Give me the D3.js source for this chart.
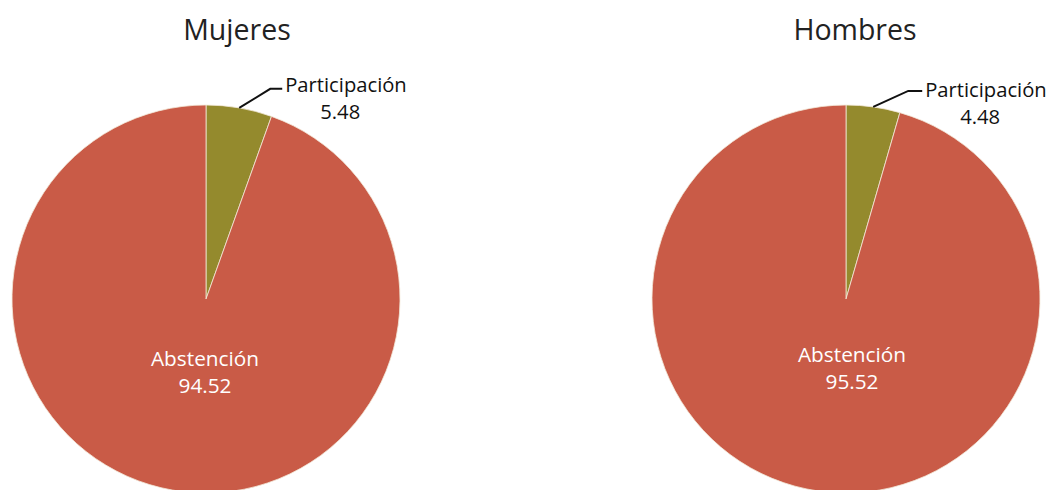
<!DOCTYPE html>
<html><head><meta charset="utf-8">
<script src="https://cdn.jsdelivr.net/npm/d3@7"></script>
<style>body{margin:0;background:#fff;overflow:hidden}</style>
</head><body>
<svg id="c" width="1049" height="490"></svg>
<script>
const titles = ["Mujeres", "Hombres"];
const categories = ["Participación", "Abstención"];
const mujeres = [5.48, 94.52];
const hombres = [4.48, 95.52];
const colors = ["#948A2D", "#C95B47"];

const svg = d3.select("#c");
const font = "'Open Sans', 'Noto Sans', sans-serif";
const R = 194;
const pies = [
  {title: titles[0], values: mujeres, cx: 206, cy: 299, titleX: 237, elbow: [31, -19], seg: 12, base: 3, big: [-1, 67]},
  {title: titles[1], values: hombres, cx: 846, cy: 299, titleX: 855, elbow: [35, -16], seg: 14, base: 6, big: [6, 63]}
];
const pie = d3.pie().sort(null).value(d => d);
const arc = d3.arc().innerRadius(0).outerRadius(R);
const color = d3.scaleOrdinal().domain(categories).range(colors);

pies.forEach(p => {
  svg.append("text").attr("x", p.titleX).attr("y", 40).attr("text-anchor", "middle")
    .attr("font-family", font).attr("font-size", 28.5).attr("fill", "#222").text(p.title);
  const g = svg.append("g").attr("transform", `translate(${p.cx},${p.cy})`);
  const arcs = pie(p.values);
  g.selectAll("path").data(arcs).join("path")
    .attr("d", arc).attr("fill", (d, i) => color(categories[i]))
    .attr("stroke", "#f3e9d8").attr("stroke-width", 0.8);
  // small slice leader
  const a = arcs[0];
  const m = (a.startAngle + a.endAngle) / 2;
  const sx = R * Math.sin(m), sy = -R * Math.cos(m);
  const ex = sx + p.elbow[0], ey = sy + p.elbow[1];
  g.append("polyline").attr("points", `${sx},${sy} ${ex},${ey} ${ex + p.seg},${ey}`)
    .attr("fill", "none").attr("stroke", "#111").attr("stroke-width", 2);
  const tx = ex + p.seg + 3;
  g.append("text").attr("x", tx).attr("y", ey + p.base).attr("font-family", font)
    .attr("font-size", 20.2).attr("fill", "#111").text(categories[0]);
  g.append("text").attr("x", tx + 55).attr("y", ey + p.base + 27).attr("text-anchor", "middle")
    .attr("font-family", font).attr("font-size", 20.2).attr("fill", "#111").text(p.values[0].toFixed(2));
  // big slice label
  const b = g.append("text").attr("text-anchor", "middle").attr("font-family", font)
    .attr("font-size", 20.8).attr("fill", "#fff");
  b.append("tspan").attr("x", p.big[0]).attr("y", p.big[1]).text(categories[1]);
  b.append("tspan").attr("x", p.big[0]).attr("y", p.big[1] + 27).text(p.values[1].toFixed(2));
});
</script>
</body></html>
